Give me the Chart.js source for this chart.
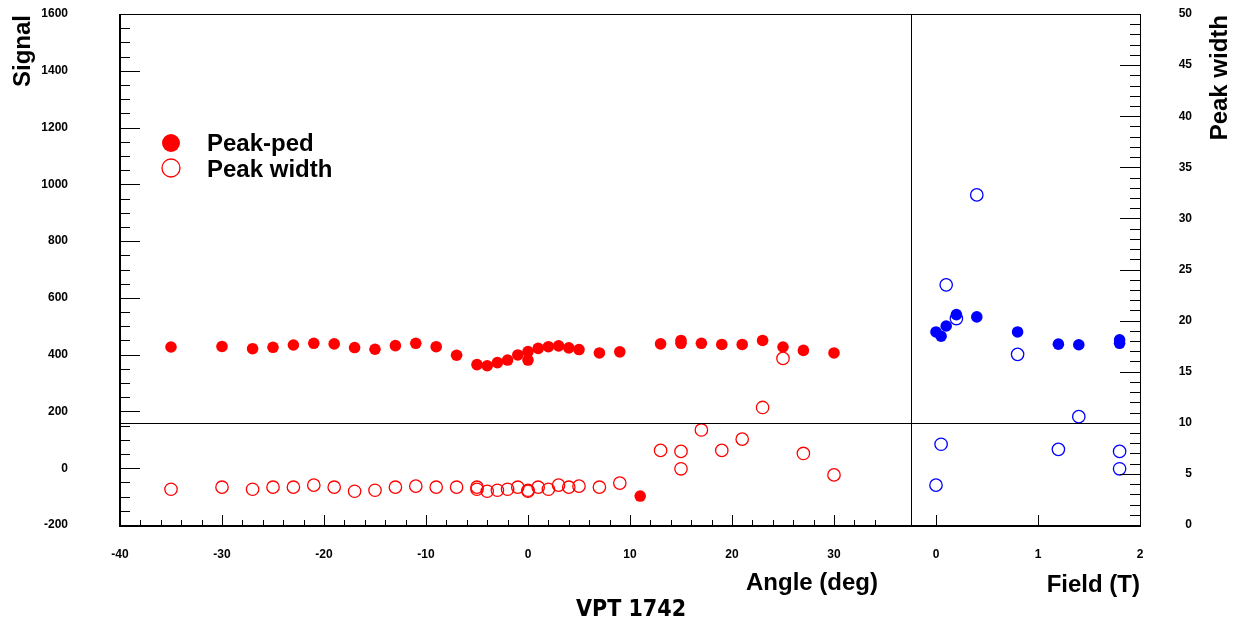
<!DOCTYPE html>
<html lang="en">
<head>
    <meta charset="UTF-8">
    <title>VPT 1742</title>
    <style>
        html, body { margin: 0; padding: 0; background: #fff; }
        canvas { display: block; }
    </style>
</head>
<body>
    <canvas id="vptChart" width="1242" height="628"></canvas>

    <script src="https://cdn.jsdelivr.net/npm/chart.js"></script>
    <script>
        // angle scan (left panel)
        const pedAngles = [-35, -30, -27, -25, -23, -21, -19, -17, -15, -13, -11, -9, -7, -5, -4, -3, -2, -1, 0, 0,
                           1, 2, 3, 4, 5, 7, 9, 11, 13, 15, 15, 17, 19, 21, 23, 25, 27, 30];
        const peakPed = [427, 429, 421, 426, 434, 440, 438, 425, 419, 432, 440, 428, 398, 365, 361, 372, 381, 399, 411, 381,
                         422, 428, 431, 424, 418, 406, 410, -98, 438, 450, 440, 440, 436, 436, 450, 427, 415, 406];

        const widthAngles = [-35, -30, -27, -25, -23, -21, -19, -17, -15, -13, -11, -9, -7, -5, -5, -4, -3, -2, -1, 0, 0,
                             1, 2, 3, 4, 5, 7, 9, 13, 15, 15, 17, 19, 21, 23, 25, 27, 30];
        const peakWidth = [3.5, 3.7, 3.5, 3.7, 3.7, 3.9, 3.7, 3.3, 3.4, 3.7, 3.8, 3.7, 3.7, 3.7, 3.5, 3.3, 3.4, 3.5, 3.7, 3.4, 3.3,
                           3.7, 3.5, 3.9, 3.7, 3.8, 3.7, 4.1, 7.3, 7.2, 5.5, 9.3, 7.3, 8.4, 11.5, 16.3, 7.0, 4.9];

        // field scan (right panel)
        const fields = [0, 0.05, 0.1, 0.2, 0.4, 0.8, 1.2, 1.4, 1.8, 1.8];
        const fieldPeakPed = [480, 465, 501, 541, 533, 480, 437, 435, 452, 440];
        const fieldWidthPoints = [0, 0.05, 0.1, 0.2, 0.4, 0.8, 1.2, 1.4, 1.8, 1.8];
        const fieldPeakWidth = [3.9, 7.9, 23.5, 20.2, 32.3, 16.7, 7.4, 10.6, 7.2, 5.5];

        // axis labels
        const signalTicks = [-200, 0, 200, 400, 600, 800, 1000, 1200, 1400, 1600];
        const widthTicks = [0, 5, 10, 15, 20, 25, 30, 35, 40, 45, 50];
        const angleTicks = [-40, -30, -20, -10, 0, 10, 20, 30];
        const fieldTicks = [0, 1, 2];

        const RED = '#ff0000';
        const BLUE = '#0000ff';

        function pts(xs, ys) {
            return xs.map((x, i) => ({ x: x, y: ys[i] }));
        }

        const font = (size) => 'bold ' + size + 'px "Liberation Sans", Arial, sans-serif';

        // ROOT style frame, inside ticks, labels and legend
        const rootFrame = {
            id: 'rootFrame',
            afterDatasetsDraw(chart) {
                const { ctx, chartArea: a, scales } = chart;
                const xa = scales.xa, xf = scales.xf, y = scales.y, y2 = scales.y2;
                ctx.save();
                ctx.strokeStyle = '#000';

                // frame
                ctx.lineWidth = 1;
                ctx.beginPath();
                ctx.moveTo(a.left, a.top + 0.5); ctx.lineTo(a.right, a.top + 0.5);
                ctx.moveTo(a.right + 0.5, a.top); ctx.lineTo(a.right + 0.5, a.bottom);
                const sepX = Math.round(xa.right) + 0.5;
                ctx.moveTo(sepX, a.top); ctx.lineTo(sepX, a.bottom);
                const hY = Math.round(y2.getPixelForValue(10)) + 0.5;
                ctx.moveTo(a.left, hY); ctx.lineTo(a.right, hY);
                ctx.stroke();

                ctx.lineWidth = 2;
                ctx.beginPath();
                ctx.moveTo(a.left, a.top); ctx.lineTo(a.left, a.bottom + 1);
                ctx.lineTo(a.right + 1, a.bottom + 1);
                ctx.stroke();

                // ticks
                ctx.lineWidth = 1;
                ctx.beginPath();
                for (let v = -200; v <= 1600; v += 50) {
                    const py = Math.round(y.getPixelForValue(v)) + 0.5;
                    const len = v % 200 === 0 ? 20 : 10;
                    ctx.moveTo(a.left, py); ctx.lineTo(a.left + len, py);
                }
                for (let w = 0; w <= 50; w += 1) {
                    const py = Math.round(y2.getPixelForValue(w)) + 0.5;
                    const len = w % 5 === 0 ? 20 : 10;
                    ctx.moveTo(a.right - len, py); ctx.lineTo(a.right, py);
                }
                for (let v = -40; v <= 34; v += 2) {
                    const px = Math.round(xa.getPixelForValue(v)) + 0.5;
                    const len = v % 10 === 0 ? 10 : 5;
                    ctx.moveTo(px, a.bottom); ctx.lineTo(px, a.bottom - len);
                }
                fieldTicks.forEach(v => {
                    const px = Math.round(xf.getPixelForValue(v)) + 0.5;
                    ctx.moveTo(px, a.bottom); ctx.lineTo(px, a.bottom - 10);
                });
                ctx.stroke();

                // tick labels
                ctx.fillStyle = '#000';
                ctx.font = font(12);
                ctx.textBaseline = 'middle';
                ctx.textAlign = 'right';
                signalTicks.forEach(v => ctx.fillText(String(v), 68, y.getPixelForValue(v)));
                widthTicks.forEach(v => ctx.fillText(String(v), 1192, y2.getPixelForValue(v)));
                ctx.textAlign = 'center';
                angleTicks.forEach(v => ctx.fillText(String(v), xa.getPixelForValue(v), 555));
                fieldTicks.forEach(v => ctx.fillText(String(v), xf.getPixelForValue(v), 555));

                // axis titles
                ctx.font = font(24);
                ctx.textAlign = 'right';
                ctx.fillText('Angle (deg)', 878, 583);
                ctx.fillText('Field (T)', 1140, 585);

                ctx.save();
                ctx.translate(30, 15);
                ctx.rotate(-Math.PI / 2);
                ctx.textBaseline = 'alphabetic';
                ctx.fillText('Signal', 0, 0);
                ctx.restore();

                ctx.save();
                ctx.translate(1227, 15);
                ctx.rotate(-Math.PI / 2);
                ctx.textBaseline = 'alphabetic';
                ctx.fillText('Peak width', 0, 0);
                ctx.restore();

                // run label
                ctx.textAlign = 'center';
                ctx.font = 'bold 23px "DejaVu Sans Condensed", "DejaVu Sans", sans-serif';
                ctx.fillText('VPT 1742', 631, 610);

                // legend
                const ds = chart.data.datasets;
                ctx.beginPath();
                ctx.arc(171, 143, 9, 0, Math.PI * 2);
                ctx.fillStyle = ds[0].backgroundColor;
                ctx.fill();
                ctx.beginPath();
                ctx.arc(171, 168, 9, 0, Math.PI * 2);
                ctx.strokeStyle = ds[1].borderColor;
                ctx.lineWidth = 1.3;
                ctx.stroke();
                ctx.fillStyle = '#000';
                ctx.font = font(24);
                ctx.textAlign = 'left';
                ctx.textBaseline = 'alphabetic';
                ctx.fillText(ds[0].label, 207, 151);
                ctx.fillText(ds[1].label, 207, 177);

                ctx.restore();
            }
        };

        const filled = (color) => ({
            backgroundColor: color, borderColor: color, borderWidth: 0,
            pointRadius: 5.8, pointHoverRadius: 5.8
        });
        const open = (color) => ({
            backgroundColor: 'rgba(0,0,0,0)', borderColor: color, borderWidth: 1.3,
            pointRadius: 6.2, pointHoverRadius: 6.2
        });

        new Chart(document.getElementById('vptChart'), {
            type: 'scatter',
            data: {
                datasets: [
                    { label: 'Peak-ped', data: pts(pedAngles, peakPed), xAxisID: 'xa', yAxisID: 'y', ...filled(RED) },
                    { label: 'Peak width', data: pts(widthAngles, peakWidth), xAxisID: 'xa', yAxisID: 'y2', ...open(RED) },
                    { label: 'Peak-ped (field)', data: pts(fields, fieldPeakPed), xAxisID: 'xf', yAxisID: 'y', ...filled(BLUE) },
                    { label: 'Peak width (field)', data: pts(fieldWidthPoints, fieldPeakWidth), xAxisID: 'xf', yAxisID: 'y2', ...open(BLUE) }
                ]
            },
            options: {
                responsive: false,
                animation: false,
                events: [],
                layout: { padding: { left: 120, top: 14, right: 102, bottom: 103 } },
                scales: {
                    xa: { type: 'linear', position: 'bottom', stack: 'x', stackWeight: 791,
                          min: -40, max: 37.55, display: false },
                    xf: { type: 'linear', position: 'bottom', stack: 'x', stackWeight: 229,
                          min: -0.245, max: 2, display: false },
                    y: { type: 'linear', position: 'left', min: -200, max: 1600, display: false },
                    y2: { type: 'linear', position: 'right', min: 0, max: 50, display: false }
                },
                plugins: {
                    legend: { display: false },
                    tooltip: { enabled: false }
                }
            },
            plugins: [rootFrame]
        });
    </script>
</body>
</html>
